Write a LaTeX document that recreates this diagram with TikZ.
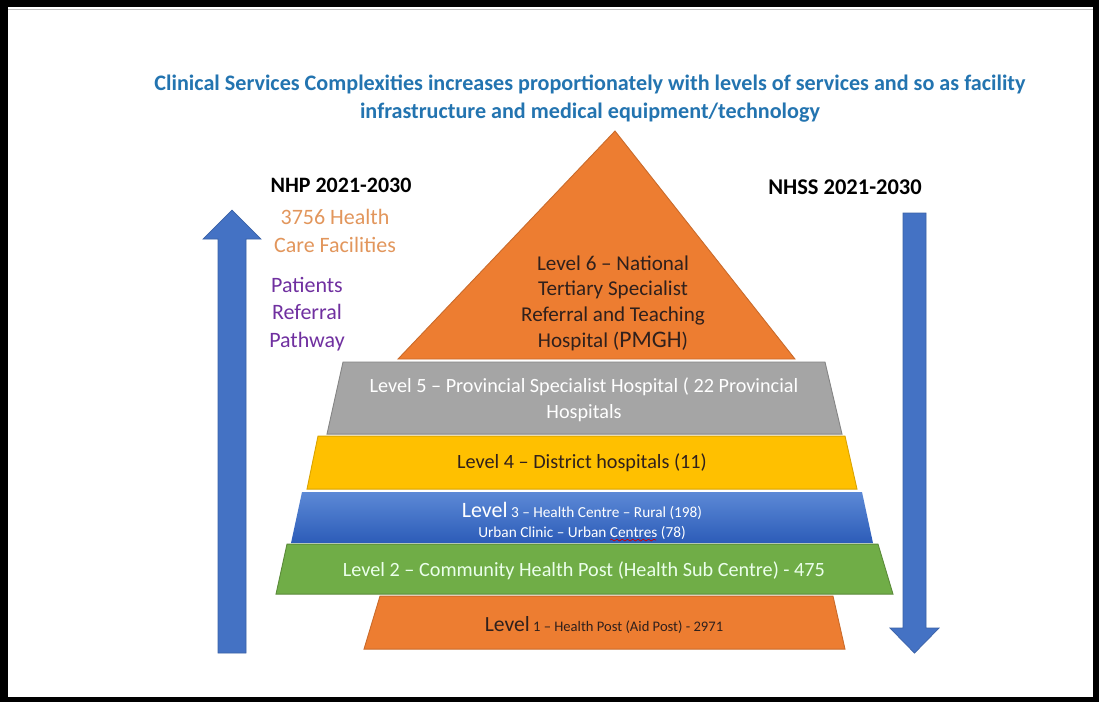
\documentclass[tikz,border=0pt]{standalone}
\usepackage{fontspec}
\setmainfont{Carlito}
\usetikzlibrary{decorations.pathmorphing}

\definecolor{titleblue}{RGB}{35,116,176}
\definecolor{tierorange}{RGB}{237,125,49}
\definecolor{tiergray}{RGB}{165,165,165}
\definecolor{tiergold}{RGB}{255,192,0}
\definecolor{tierbluetop}{RGB}{92,137,214}
\definecolor{tierbluebot}{RGB}{44,92,184}
\definecolor{tiergreen}{RGB}{112,173,71}
\definecolor{arrowblue}{RGB}{68,114,196}
\definecolor{countorange}{RGB}{226,150,92}
\definecolor{pathpurple}{RGB}{112,48,160}
\definecolor{darktext}{RGB}{48,32,28}

\tikzset{
	tier/.style={line width=0.5pt},
	tiertext/.style={font=\fontsize{11.5}{14.6}\selectfont, align=center, inner sep=0pt},
	sidetext/.style={font=\fontsize{12.5}{15.8}\selectfont, align=center, inner sep=0pt},
	blockarrow/.style={fill=arrowblue, draw=arrowblue!85!black, line width=0.4pt}
}

\begin{document}
\begin{tikzpicture}[x=0.56687bp,y=-0.56694bp]
			\useasboundingbox (0,0) rectangle (1099,702);
			\fill[white] (0,0) rectangle (1099,702);
			
			% black frame
			\fill[black] (0,0) rectangle (1099,7);
			\fill[black] (0,697) rectangle (1099,702);
			\fill[black] (0,0) rectangle (8,702);
			\fill[black] (1093,0) rectangle (1099,702);
			\draw[black!25,line width=0.6pt] (8,9.5) -- (1093,9.5);
			
			\node[tiertext,font=\fontsize{12.6}{15.9}\selectfont\bfseries,text=titleblue] (title) at (590,99)
				{Clinical Services Complexities increases proportionately with levels of services and so as facility\\
				infrastructure and medical equipment/technology};
			
			% pyramid, top down
			\fill[tier,fill=tierorange,draw=tierorange!85!black] (615,131) -- (795,359) -- (398,359) -- cycle;
			\fill[tier,fill=tiergray,draw=tiergray!80!black]     (343,362) -- (825,362) -- (842,434) -- (327,434) -- cycle;
			\fill[tier,fill=tiergold,draw=tiergold!85!black]     (318,436) -- (845,436) -- (857,489) -- (307,489) -- cycle;
			\shade[top color=tierbluetop,bottom color=tierbluebot] (302,492) -- (862,492) -- (873,543) -- (291,543) -- cycle;
			\fill[tier,fill=tiergreen,draw=tiergreen!80!black]   (287,544) -- (878,544) -- (893,594) -- (276,594) -- cycle;
			\fill[tier,fill=tierorange,draw=tierorange!85!black] (380,596) -- (833,596) -- (845,649) -- (364,649) -- cycle;
			
			\node[tiertext,font=\fontsize{12}{14.6}\selectfont,text=darktext] (lvl6) at (613,303)
				{Level 6 -- National\\Tertiary Specialist\\Referral and Teaching\\Hospital ({\fontsize{13.5}{14.6}\selectfont PMGH})};
			\node[tiertext,text=white] (lvl5) at (584,400)
				{Level 5 -- Provincial Specialist Hospital ( 22 Provincial\\Hospitals};
			\node[tiertext,text=darktext] (lvl4) at (582,463) {Level 4 -- District hospitals (11)};
			\node[tiertext,text=white,font=\fontsize{8.7}{11.4}\selectfont] (lvl3) at (582,521)
				{{\fontsize{12.5}{11.4}\selectfont Level} 3 -- Health Centre -- Rural (198)\\Urban Clinic -- Urban Centres (78)};
			\node[tiertext,text=white!92!green] (lvl2) at (584,571)
				{Level 2 -- Community Health Post (Health Sub Centre) - 475};
			\node[tiertext,text=darktext,font=\fontsize{8.3}{12}\selectfont] (lvl1) at (604,625)
				{{\fontsize{12.3}{12}\selectfont Level} 1 -- Health Post (Aid Post) - 2971};
			\draw[red!80!black,line width=0.4pt,decorate,decoration={snake,amplitude=0.5,segment length=3}] (610,540) -- (656,540);
			
			% referral arrows
			\fill[blockarrow] (218,653) -- (218,239) -- (203,239) -- (232,210) -- (261,239) -- (246,239) -- (246,653) -- cycle;
			\fill[blockarrow] (903,213) -- (926,213) -- (926,628) -- (939,628) -- (914.5,653) -- (890,628) -- (903,628) -- cycle;
			
			\node[sidetext,font=\fontsize{12.5}{15.8}\selectfont\bfseries] (nhp) at (341,185) {NHP 2021-2030};
			\node[sidetext,text=countorange] (facilities) at (335,231) {3756 Health\\Care Facilities};
			\node[sidetext,text=pathpurple] (pathway) at (307,314) {Patients\\Referral\\Pathway};
			\node[sidetext,font=\fontsize{12.8}{15.8}\selectfont\bfseries] (nhss) at (845,187) {NHSS 2021-2030};
			\end{tikzpicture}
\end{document}
